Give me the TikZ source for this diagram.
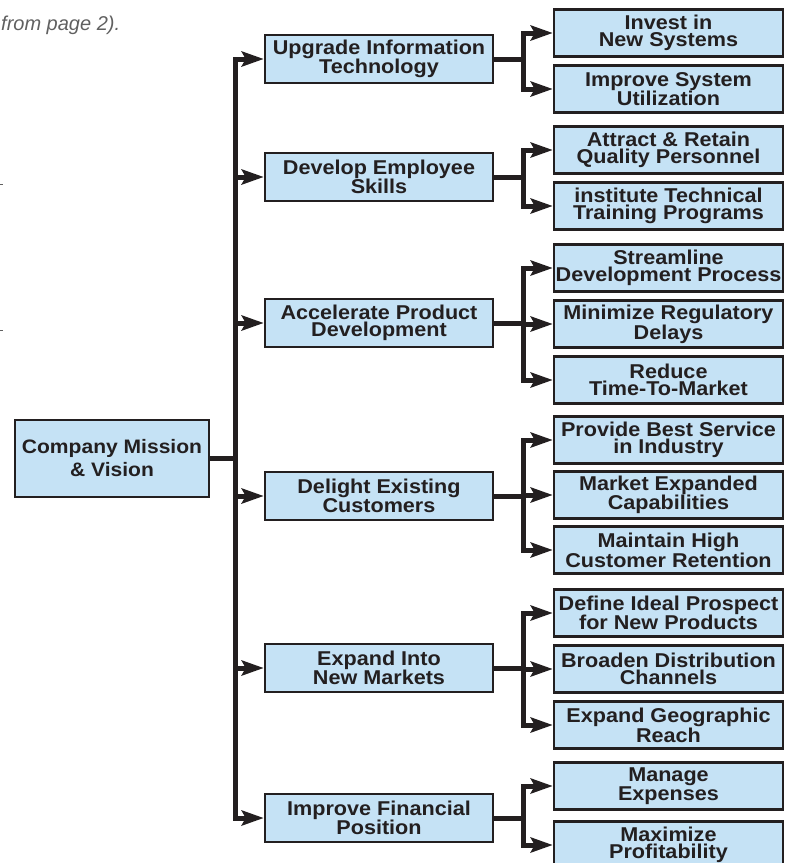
\documentclass[tikz,border=0pt]{standalone}
\usepackage{fontspec}
\setmainfont{Liberation Sans}
\newfontfamily\boxfont{Liberation Sans}[FakeStretch=1.08]
\usetikzlibrary{arrows.meta}
\definecolor{ink}{HTML}{231F20}
\definecolor{boxblue}{HTML}{C5E2F5}
\definecolor{notegray}{HTML}{606060}
\tikzset{
 box/.style={draw=ink, line width=2.5pt, fill=boxblue, align=center, text=ink,
   font=\boxfont\bfseries\fontsize{20}{17.5}\selectfont, inner sep=0pt},
 lone/.style={box, minimum width=228pt, minimum height=48pt},
 ltwo/.style={box, minimum width=229pt, minimum height=47pt},
 rootbox/.style={box, minimum width=194pt, minimum height=77pt,
   font=\boxfont\bfseries\fontsize{19.5}{23}\selectfont},
 conn/.style={draw=ink, line width=5pt},
 arr/.style={conn, -{Stealth[length=22pt,width=15pt,inset=4pt]}},
}
\begin{document}
\begin{tikzpicture}[x=1pt,y=-1pt]
\useasboundingbox (0,0) rectangle (788,863);
\clip (0,0) rectangle (788,863);

\node[anchor=base west, inner sep=0pt, text=notegray, font=\itshape\fontsize{20}{22}\selectfont] (note) at (1,30) {from page 2).};
\draw[notegray, line width=1pt] (0,184) -- (3,184);
\draw[notegray, line width=1pt] (0,330) -- (3,330);

\node[rootbox] (root) at (112,458.5) {Company Mission\\\& Vision};

\node[lone] (u1) at (379,59) {Upgrade Information\\Technology};
\node[lone] (u2) at (379,177) {Develop Employee\\Skills};
\node[lone] (u3) at (379,323) {Accelerate Product\\Development};
\node[lone] (u4) at (379,496) {Delight Existing\\Customers};
\node[lone] (u5) at (379,668) {Expand Into\\New Markets};
\node[lone] (u6) at (379,818) {Improve Financial\\Position};

\node[ltwo] (a1) at (668.5,33) {Invest in\\New Systems};
\node[ltwo] (a2) at (668.5,89) {Improve System\\Utilization};
\node[ltwo] (b1) at (668.5,150) {Attract \& Retain\\Quality Personnel};
\node[ltwo] (b2) at (668.5,206) {institute Technical\\Training Programs};
\node[ltwo] (c1) at (668.5,268) {Streamline\\Development Process};
\node[ltwo] (c2) at (668.5,324) {Minimize Regulatory\\Delays};
\node[ltwo] (c3) at (668.5,380) {Reduce\\Time-To-Market};
\node[ltwo] (d1) at (668.5,440) {Provide Best Service\\in Industry};
\node[ltwo] (d2) at (668.5,495) {Market Expanded\\Capabilities};
\node[ltwo] (d3) at (668.5,550) {Maintain High\\Customer Retention};
\node[ltwo] (e1) at (668.5,613) {Define Ideal Prospect\\for New Products};
\node[ltwo] (e2) at (668.5,669) {Broaden Distribution\\Channels};
\node[ltwo] (e3) at (668.5,725) {Expand Geographic\\Reach};
\node[ltwo] (f1) at (668.5,786) {Manage\\Expenses};
\node[ltwo] (f2) at (668.5,845) {Maximize\\Profitability};

% trunk
\coordinate (tj) at (235,458.5);
\draw[conn] (root.east) -- (tj);
\foreach \n in {u1,u2,u3,u4,u5,u6} \draw[arr] (tj) |- (\n.west);

% branches
\coordinate (ja) at (523,59);
\coordinate (jb) at (523,177);
\coordinate (jc) at (523,323);
\coordinate (jd) at (523,496);
\coordinate (je) at (523,668);
\coordinate (jf) at (523,818);
\draw[conn] (u1.east) -- (ja);
\draw[conn] (u2.east) -- (jb);
\draw[conn] (u3.east) -- (jc);
\draw[conn] (u4.east) -- (jd);
\draw[conn] (u5.east) -- (je);
\draw[conn] (u6.east) -- (jf);
\foreach \n in {a1,a2} \draw[arr] (ja) |- (\n.west);
\foreach \n in {b1,b2} \draw[arr] (jb) |- (\n.west);
\foreach \n in {c1,c2,c3} \draw[arr] (jc) |- (\n.west);
\foreach \n in {d1,d2,d3} \draw[arr] (jd) |- (\n.west);
\foreach \n in {e1,e2,e3} \draw[arr] (je) |- (\n.west);
\foreach \n in {f1,f2} \draw[arr] (jf) |- (\n.west);
\end{tikzpicture}
\end{document}
